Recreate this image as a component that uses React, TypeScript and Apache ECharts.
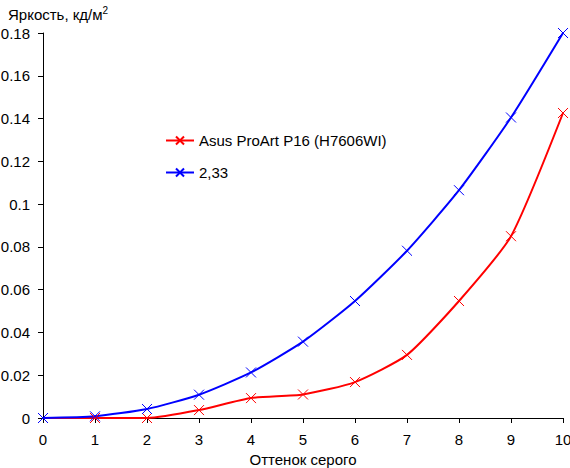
import { useEffect, useRef } from 'react';
import * as echarts from 'echarts';

const grayLevels = ['0', '1', '2', '3', '4', '5', '6', '7', '8', '9', '10'];
const asusValues = [0, 0, 0, 0.0037, 0.0093, 0.011, 0.0168, 0.0295, 0.0547, 0.085, 0.1426];
const gammaValues = [0, 0.0008, 0.0042, 0.0109, 0.0213, 0.0357, 0.0547, 0.0782, 0.1065, 0.1405, 0.18];
const seriesNames = ['Asus ProArt P16 (H7606WI)', '2,33'];

const FONT = '"Liberation Sans", Arial, sans-serif';
const crossSymbol = 'path://M0 0L10 10M10 0L0 10';

export default function App() {
  const chartRef = useRef<HTMLDivElement>(null);

  useEffect(() => {
    if (!chartRef.current) return;
    const chart = echarts.init(chartRef.current, undefined, { renderer: 'svg' });

    const makeSeries = (name: string, values: number[], color: string) => ({
      name,
      type: 'line' as const,
      data: values,
      smooth: 0.2,
      symbol: crossSymbol,
      symbolSize: 10,
      showAllSymbol: true,
      lineStyle: { color, width: 2 },
      itemStyle: { color: 'transparent', borderColor: color, borderWidth: 1 },
    });

    chart.setOption({
      animation: false,
      backgroundColor: '#ffffff',
      textStyle: { fontFamily: FONT },
      title: {
        text: 'Яркость, кд/м{sup|2}',
        left: 3,
        top: 0,
        textStyle: {
          fontSize: 15,
          fontWeight: 'normal',
          color: '#000',
          fontFamily: FONT,
          rich: {
            sup: { fontSize: 10, verticalAlign: 'top', padding: [0, 0, 9, 0], color: '#000', fontFamily: FONT },
          },
        },
      },
      legend: {
        orient: 'vertical',
        left: 160,
        top: 128,
        itemGap: 17,
        itemWidth: 28,
        itemHeight: 10,
        textStyle: { fontSize: 15, color: '#000', fontFamily: FONT },
        data: seriesNames,
      },
      grid: {
        left: 43,
        right: 7,
        top: 33,
        bottom: 50,
        containLabel: false,
        outerBoundsMode: 'none',
      },
      xAxis: {
        type: 'category',
        boundaryGap: false,
        data: grayLevels,
        name: 'Оттенок серого',
        nameLocation: 'middle',
        nameGap: 34,
        nameTextStyle: { fontSize: 15, color: '#000', fontFamily: FONT },
        axisLine: { lineStyle: { color: '#000', width: 1 } },
        axisTick: { show: true, length: 5, alignWithLabel: true, lineStyle: { color: '#000' } },
        axisLabel: { fontSize: 15, color: '#000', margin: 14, fontFamily: FONT },
        splitLine: { show: false },
      },
      yAxis: {
        type: 'value',
        min: 0,
        max: 0.18,
        interval: 0.02,
        axisLine: { show: true, lineStyle: { color: '#000', width: 1 } },
        axisTick: { show: true, length: 5, lineStyle: { color: '#000' } },
        axisLabel: { fontSize: 15, color: '#000', margin: 13, fontFamily: FONT },
        splitLine: { show: false },
      },
      series: [
        makeSeries(seriesNames[0], asusValues, '#ff0000'),
        makeSeries(seriesNames[1], gammaValues, '#0000ff'),
      ],
    });

    return () => chart.dispose();
  }, []);

  return (
    <div
      ref={chartRef}
      style={{ position: 'fixed', left: 0, top: 0, width: 570, height: 468 }}
    />
  );
}
